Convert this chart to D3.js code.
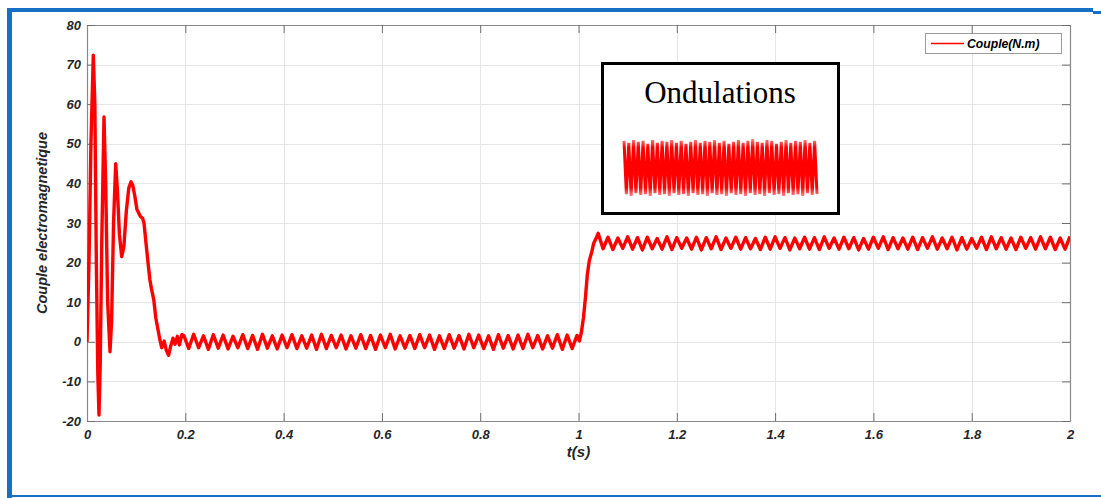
<!DOCTYPE html>
<html>
<head>
<meta charset="utf-8">
<script src="https://cdn.jsdelivr.net/npm/d3@7"></script>
<style>
html,body{margin:0;padding:0;background:#fff;}
svg{display:block;}
</style>
</head>
<body>
<svg id="chart" width="1101" height="498"></svg>
<script>
// ---------- DATA ----------
const xTicks = [0, 0.2, 0.4, 0.6, 0.8, 1, 1.2, 1.4, 1.6, 1.8, 2];
const xTickLabels = ["0", "0.2", "0.4", "0.6", "0.8", "1", "1.2", "1.4", "1.6", "1.8", "2"];
const yTicks = [-20, -10, 0, 10, 20, 30, 40, 50, 60, 70, 80];
const yTickLabels = ["-20", "-10", "0", "10", "20", "30", "40", "50", "60", "70", "80"];
const seriesName = "Couple(N.m)";
const xTitle = "t(s)";
const yTitle = "Couple electromagnetique";
const insetTitle = "Ondulations";

// start-up transient
const timeTransient = [0, 0.004, 0.008, 0.0128, 0.016, 0.019, 0.022, 0.0244, 0.027, 0.030,
  0.0346, 0.038, 0.042, 0.0468, 0.050, 0.054, 0.0584, 0.062, 0.066, 0.0706,
  0.075, 0.080, 0.085, 0.0895, 0.093, 0.097, 0.1015, 0.105, 0.109, 0.113,
  0.116, 0.120, 0.125, 0.128, 0.131, 0.136, 0.140, 0.1485, 0.152, 0.157,
  0.161, 0.166, 0.170, 0.175, 0.179, 0.184, 0.188, 0.193];
const coupleTransient = [0, 20, 50, 72.4, 60, 20, -8, -18.5, -5, 25,
  56.8, 40, 10, -2.5, 5, 30, 45, 38, 27, 21.5,
  24, 33, 38.8, 40.4, 39.6, 37, 33.5, 32.6, 31.6, 31.2,
  30, 25, 19, 15.6, 13.5, 10.5, 6, 0.4, -1.5, 0.2,
  -2, -3.4, -1.2, 0.9, -0.6, 1.4, -0.8, 1.8];

// no-load ripple around 0
const timeNoLoad = [0.197,0.207,0.217,0.227,0.237,0.247,0.257,0.267,0.277,0.287,
  0.297,0.307,0.317,0.327,0.337,0.347,0.357,0.367,0.377,0.387,
  0.397,0.407,0.417,0.427,0.437,0.447,0.457,0.467,0.477,0.487,
  0.497,0.507,0.517,0.527,0.537,0.547,0.557,0.567,0.577,0.587,
  0.597,0.607,0.617,0.627,0.637,0.647,0.657,0.667,0.677,0.687,
  0.697,0.707,0.717,0.727,0.737,0.747,0.757,0.767,0.777,0.787,
  0.797,0.807,0.817,0.827,0.837,0.847,0.857,0.867,0.877,0.887,
  0.897,0.907,0.917,0.927,0.937,0.947,0.957,0.967,0.977,0.987,
  0.997];
const coupleNoLoad = [1.6,-1.7,1.9,-1.5,1.5,-1.9,1.8,-1.6,1.7,-1.8,
  1.4,-1.5,1.8,-1.7,1.6,-1.9,1.9,-1.6,1.5,-1.8,
  1.7,-1.5,1.8,-1.7,1.5,-1.6,1.7,-1.9,1.9,-1.7,
  1.6,-1.5,1.7,-1.8,1.5,-1.6,1.8,-1.7,1.6,-1.9,
  1.7,-1.5,1.9,-1.8,1.5,-1.6,1.6,-1.7,1.8,-1.5,
  1.7,-1.9,1.5,-1.7,1.8,-1.6,1.6,-1.8,1.9,-1.5,
  1.7,-1.7,1.5,-1.9,1.8,-1.6,1.6,-1.8,1.7,-1.7,
  1.9,-1.5,1.6,-1.8,1.5,-1.6,1.8,-1.9,1.7,-1.7,
  1.6];

// load step at t = 1 s
const timeStep = [1.002, 1.006, 1.010, 1.014, 1.018, 1.022, 1.027, 1.031, 1.036, 1.040];
const coupleStep = [0.2, 2.5, 6, 11, 17, 20.5, 22.7, 24.9, 26.2, 27.4];

// loaded ripple around 25
const timeLoad = [1.05,1.06,1.07,1.08,1.09,1.10,1.11,1.12,1.13,1.14,
  1.15,1.16,1.17,1.18,1.19,1.20,1.21,1.22,1.23,1.24,
  1.25,1.26,1.27,1.28,1.29,1.30,1.31,1.32,1.33,1.34,
  1.35,1.36,1.37,1.38,1.39,1.40,1.41,1.42,1.43,1.44,
  1.45,1.46,1.47,1.48,1.49,1.50,1.51,1.52,1.53,1.54,
  1.55,1.56,1.57,1.58,1.59,1.60,1.61,1.62,1.63,1.64,
  1.65,1.66,1.67,1.68,1.69,1.70,1.71,1.72,1.73,1.74,
  1.75,1.76,1.77,1.78,1.79,1.80,1.81,1.82,1.83,1.84,
  1.85,1.86,1.87,1.88,1.89,1.90,1.91,1.92,1.93,1.94,
  1.95,1.96,1.97,1.98,1.99,2.00];
const coupleLoad = [23.5,26.4,23.3,26.2,23.6,26.5,23.4,26.3,23.2,26.4,
  23.5,26.1,23.4,26.5,23.3,26.3,23.6,26.2,23.4,26.4,
  23.2,26.3,23.5,26.5,23.3,26.2,23.6,26.4,23.4,26.3,
  23.5,26.1,23.3,26.4,23.4,26.5,23.6,26.3,23.2,26.2,
  23.5,26.4,23.4,26.3,23.3,26.5,23.6,26.2,23.4,26.4,
  23.5,26.3,23.2,26.1,23.4,26.4,23.6,26.5,23.3,26.3,
  23.5,26.2,23.4,26.4,23.3,26.3,23.6,26.5,23.4,26.2,
  23.5,26.4,23.2,26.3,23.4,26.1,23.6,26.4,23.3,26.5,
  23.5,26.3,23.4,26.2,23.3,26.4,23.6,26.3,23.4,26.5,
  23.5,26.4,23.3,26.2,23.4,26.6];

// zoomed ripple shown in the inset
const insetRipple = [27.8,22.2,27.6,22.0,27.9,22.3,27.7,22.1,27.8,22.2,
  27.5,22.0,27.9,22.3,27.6,22.1,27.8,22.2,27.7,22.0,
  27.9,22.3,27.6,22.1,27.8,22.2,27.5,22.0,27.7,22.3,
  27.9,22.1,27.6,22.2,27.8,22.0,27.7,22.3,27.9,22.1,
  27.6,22.2,27.8,22.0,27.5,22.3,27.7,22.1,27.9,22.2,
  27.6,22.0,27.8,22.3,28.0,22.1,27.7,22.2,27.6,22.0,
  27.9,22.3,27.8,22.1,27.5,22.2,27.7,22.0,27.9,22.3,
  27.6,22.1,27.8,22.2,27.7,22.0,27.9,22.3,27.6,22.1,
  27.8,22.2];

// ---------- DRAW ----------
const svg = d3.select("#chart");
const plot = {left: 87, right: 1070, top: 25, bottom: 421};
const x = d3.scaleLinear().domain([0, 2]).range([plot.left, plot.right]);
const y = d3.scaleLinear().domain([-20, 80]).range([plot.bottom, plot.top]);
const defs = svg.append("defs");

// page frame (blue)
const blue = "#1570c6";
svg.append("rect").attr("x", 7).attr("y", 8).attr("width", 1086).attr("height", 4).attr("fill", blue);
svg.append("rect").attr("x", 1093).attr("y", 11).attr("width", 8).attr("height", 3).attr("fill", blue);
svg.append("rect").attr("x", 7).attr("y", 8).attr("width", 5).attr("height", 490).attr("fill", blue);
svg.append("rect").attr("x", 7).attr("y", 495).attr("width", 1094).attr("height", 2).attr("fill", blue);

// grid
const grid = svg.append("g");
grid.selectAll("line.vx").data(xTicks).enter().append("line")
  .attr("x1", d => Math.round(x(d)) + 0.5).attr("x2", d => Math.round(x(d)) + 0.5)
  .attr("y1", plot.top).attr("y2", plot.bottom)
  .attr("stroke", "#e6e6e6").attr("stroke-width", 1);
grid.selectAll("line.hy").data(yTicks).enter().append("line")
  .attr("y1", d => Math.round(y(d)) + 0.5).attr("y2", d => Math.round(y(d)) + 0.5)
  .attr("x1", plot.left).attr("x2", plot.right)
  .attr("stroke", "#e6e6e6").attr("stroke-width", 1);

// axes
const axisColor = "#8a8a8a";
const labelFont = "'Liberation Sans', Arial, sans-serif";
function styleAxis(g) {
  g.select(".domain").attr("stroke", axisColor).attr("stroke-width", 1.2);
  g.selectAll(".tick line").attr("stroke", "#6e6e6e").attr("stroke-width", 1);
  g.selectAll(".tick text").attr("fill", "#262626")
    .style("font-family", labelFont).style("font-size", "13px")
    .style("font-weight", "bold").style("font-style", "italic");
}
const gx = svg.append("g").attr("transform", `translate(0,${plot.bottom})`)
  .call(d3.axisBottom(x).tickValues(xTicks).tickFormat((d, i) => xTickLabels[i])
    .tickSizeInner(-8).tickSizeOuter(0).tickPadding(9));
styleAxis(gx);
const gxt = svg.append("g").attr("transform", `translate(0,${plot.top})`)
  .call(d3.axisTop(x).tickValues(xTicks).tickFormat("").tickSizeInner(-8).tickSizeOuter(0));
styleAxis(gxt);
const gy = svg.append("g").attr("transform", `translate(${plot.left},0)`)
  .call(d3.axisLeft(y).tickValues(yTicks).tickFormat((d, i) => yTickLabels[i])
    .tickSizeInner(-8).tickSizeOuter(0).tickPadding(6));
styleAxis(gy);
const gyr = svg.append("g").attr("transform", `translate(${plot.right},0)`)
  .call(d3.axisRight(y).tickValues(yTicks).tickFormat("").tickSizeInner(-8).tickSizeOuter(0));
styleAxis(gyr);

// axis titles
svg.append("text").attr("x", x(1)).attr("y", 457).attr("text-anchor", "middle")
  .style("font-family", labelFont).style("font-size", "15px").style("font-style", "italic")
  .style("font-weight", "bold")
  .attr("fill", "#262626").text(xTitle);
svg.append("text").attr("transform", `translate(47,${(plot.top + plot.bottom) / 2}) rotate(-90)`)
  .attr("text-anchor", "middle")
  .style("font-family", labelFont).style("font-size", "14.5px").style("font-style", "italic")
  .style("font-weight", "bold")
  .attr("fill", "#262626").text(yTitle);

// series
const times = [].concat(timeTransient, timeNoLoad, timeStep, timeLoad);
const values = [].concat(coupleTransient, coupleNoLoad, coupleStep, coupleLoad);
const pts = times.map((t, i) => [t, values[i]]);
defs.append("clipPath").attr("id", "clip")
  .append("rect").attr("x", plot.left).attr("y", plot.top - 2)
  .attr("width", plot.right - plot.left).attr("height", plot.bottom - plot.top + 4);
svg.append("path").datum(pts)
  .attr("clip-path", "url(#clip)")
  .attr("fill", "none").attr("stroke", "#ff0000").attr("stroke-width", 3.4)
  .attr("stroke-linejoin", "round")
  .attr("d", d3.line().x(d => x(d[0])).y(d => y(d[1])));

// legend
const lg = svg.append("g");
lg.append("rect").attr("x", 925.5).attr("y", 33.5).attr("width", 136).attr("height", 20)
  .attr("fill", "#fff").attr("stroke", "#9a9a9a").attr("stroke-width", 1);
lg.append("line").attr("x1", 931).attr("x2", 964).attr("y1", 43.5).attr("y2", 43.5)
  .attr("stroke", "#ff0000").attr("stroke-width", 1.5);
lg.append("text").attr("x", 967).attr("y", 48)
  .style("font-family", labelFont).style("font-size", "12.2px")
  .style("font-weight", "bold").style("font-style", "italic")
  .attr("fill", "#000").text(seriesName);

// inset
const ins = svg.append("g");
ins.append("rect").attr("x", 602.5).attr("y", 63.5).attr("width", 236).attr("height", 150)
  .attr("fill", "#fff").attr("stroke", "#000").attr("stroke-width", 3);
ins.append("text").attr("x", 720).attr("y", 103).attr("text-anchor", "middle")
  .style("font-family", "'Liberation Serif', 'Times New Roman', serif").style("font-size", "31px")
  .attr("fill", "#000").text(insetTitle);
const gradient = defs.append("linearGradient").attr("id", "insetGrad")
  .attr("gradientUnits", "userSpaceOnUse")
  .attr("x1", 0).attr("y1", 136).attr("x2", 0).attr("y2", 199);
gradient.append("stop").attr("offset", "0").attr("stop-color", "#ff0000").attr("stop-opacity", 0.3);
gradient.append("stop").attr("offset", "0.18").attr("stop-color", "#ff0000").attr("stop-opacity", 1);
gradient.append("stop").attr("offset", "0.82").attr("stop-color", "#ff0000").attr("stop-opacity", 1);
gradient.append("stop").attr("offset", "1").attr("stop-color", "#ff0000").attr("stop-opacity", 0.3);
const ix = d3.scaleLinear().domain([0, insetRipple.length - 1]).range([624, 817]);
const iy = d3.scaleLinear().domain([22, 28]).range([196, 139]);
ins.append("path").datum(insetRipple)
  .attr("fill", "none").attr("stroke", "url(#insetGrad)").attr("stroke-width", 3)
  .attr("stroke-linejoin", "miter")
  .attr("d", d3.line().x((d, i) => ix(i)).y(d => iy(d)));
</script>
</body>
</html>
